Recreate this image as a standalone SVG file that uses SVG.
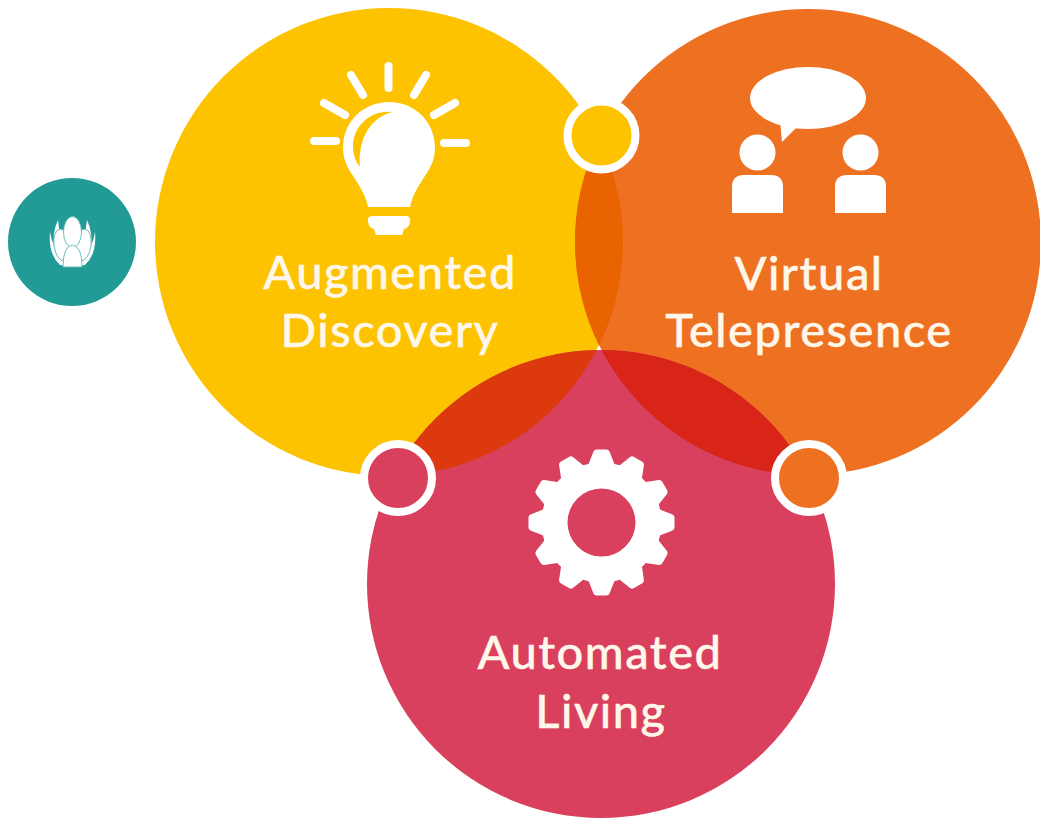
<svg xmlns="http://www.w3.org/2000/svg" width="1040" height="818" viewBox="0 0 1040 818">
<style>
.t{font-family:"Lato","Open Sans",sans-serif;font-size:47px;font-weight:500;fill:#fff8ea;stroke:#fff8ea;stroke-width:.4;text-anchor:middle;letter-spacing:1.5px}
.w{fill:#fff}
.ray{stroke:#fff;stroke-width:8;stroke-linecap:round;fill:none}
.ring{stroke:#fff;stroke-width:8}
.p{fill:#fff;stroke:#5fb8b4;stroke-width:.9}
</style>
<defs>
<clipPath id="cy"><circle cx="389" cy="242" r="234"/></clipPath>
<clipPath id="co"><circle cx="808" cy="242" r="233"/></clipPath>
<path id="tooth" d="M-13.500-57L-8-71Q-7-73-5-73H5Q7-73 8-71L13.500-57Z" fill="#fff"/>
</defs>
<rect width="1040" height="818" fill="#fff"/>
<g id="connectors"/>
<g id="node-yellow"><circle cx="389" cy="242" r="234" fill="#fdc300"/></g>
<g id="node-orange"><circle cx="808" cy="242" r="233" fill="#ee7122"/></g>
<g id="node-red"><circle cx="601" cy="584" r="234" fill="#d9405d"/></g>
<g id="overlaps">
<circle cx="808" cy="242" r="233" fill="#e96300" clip-path="url(#cy)"/>
<circle cx="601" cy="584" r="234" fill="#dc3a0e" clip-path="url(#cy)"/>
<circle cx="601" cy="584" r="234" fill="#d92418" clip-path="url(#co)"/>
</g>
<g id="node-logo">
<circle cx="72" cy="242" r="64" fill="#229b97"/>
<path class="w" d="M50 232Q48 254 60 265L72 267L85 265Q97 254 95 232Q93 246 84 256H61Q52 246 50 232Z"/>
<path class="w" d="M58 220Q51 234 55 252L61 246Q60 232 58 220ZM87 220Q94 234 90 252L84 246Q85 232 87 220Z"/>
<ellipse class="p" cx="62" cy="245" rx="8" ry="16" transform="rotate(-8 62 245)"/>
<ellipse class="p" cx="83" cy="245" rx="8" ry="16" transform="rotate(8 83 245)"/>
<ellipse class="p" cx="72.500" cy="232" rx="9" ry="15.500"/>
<path class="p" d="M63 267Q63 246 72.500 245Q82 246 82 267Z"/>
</g>
<g id="node-augmented">
<path class="ray" d="M388.500 66V88M351 75L363 95M426 75L414 95M324 103L345 115M455 103L434 115M314 141H336M444 143H466"/>
<path class="w" d="M389 102C363 102 343 122 343 148C343 161 349 170 355 179C361 188 366 197 368 207H410C412 197 417 188 423 179C429 170 435 161 435 148C435 122 415 102 389 102Z"/>
<path d="M392 112C370 110 353 126 353 147C353 155 356 162 360 167C358 143 367 119 392 112Z" fill="#fdc300"/>
<path class="w" d="M371 216H407Q411 217 410 222Q409 228 404 229L402 235H376L374 229Q369 228 368 222Q367 217 371 216Z"/>
<text class="t" x="390" y="289">Augmented</text>
<text class="t" x="390" y="347">Discovery</text>
</g>
<g id="node-virtual">
<ellipse class="w" cx="808" cy="98" rx="58" ry="31"/>
<path class="w" d="M780 120L782 142L800 124Z"/>
<circle class="w" cx="757.500" cy="152.500" r="18"/>
<circle class="w" cx="860.500" cy="152.500" r="18"/>
<path class="w" d="M732 213V187Q732 175 744 175H771Q783 175 783 187V213Z"/>
<path class="w" d="M835 213V187Q835 175 847 175H874Q886 175 886 187V213Z"/>
<text class="t" x="809" y="290">Virtual</text>
<text class="t" x="809" y="347">Telepresence</text>
</g>
<g id="node-automated">
<g transform="translate(601.500 522.500)">
<circle r="60" fill="#fff"/>
<use href="#tooth"/><use href="#tooth" transform="rotate(30)"/><use href="#tooth" transform="rotate(60)"/><use href="#tooth" transform="rotate(90)"/><use href="#tooth" transform="rotate(120)"/><use href="#tooth" transform="rotate(150)"/><use href="#tooth" transform="rotate(180)"/><use href="#tooth" transform="rotate(210)"/><use href="#tooth" transform="rotate(240)"/><use href="#tooth" transform="rotate(270)"/><use href="#tooth" transform="rotate(300)"/><use href="#tooth" transform="rotate(330)"/>
<circle r="34" fill="#d9405d"/>
</g>
<text class="t" x="600" y="669">Automated</text>
<text class="t" x="601" y="728">Living</text>
</g>
<g id="node-dot-top"><circle class="ring" cx="601.500" cy="135.500" r="34" fill="#fdc300"/></g>
<g id="node-dot-left"><circle class="ring" cx="398" cy="478" r="34" fill="#d9405d"/></g>
<g id="node-dot-right"><circle class="ring" cx="809" cy="478" r="34" fill="#ee7122"/></g>
</svg>
